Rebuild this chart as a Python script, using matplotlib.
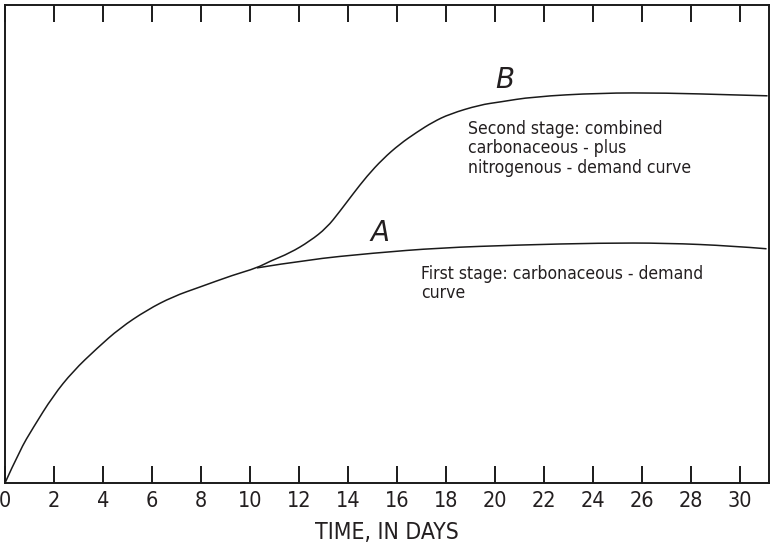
import matplotlib
matplotlib.use("Agg")
import matplotlib.pyplot as plt
from matplotlib import font_manager
from matplotlib.path import Path
from matplotlib.patches import PathPatch

# ------------------------------
# data (days, relative oxygen demand 0-100)
# ------------------------------
base_days = [0, 0.61, 1.14, 1.96, 2.78, 3.76, 4.69, 5.80, 6.86, 7.96, 9.31, 10.29]
base_bod = [0, 6.9, 11.5, 18.2, 23.4, 28.2, 32.4, 36.2, 39.0, 41.0, 43.5, 45.0]

curve_a_days = [10.29, 12.33, 15.02, 17.76, 21.0, 24.3, 27.0, 29.7, 31.1]
curve_a_bod = [45.0, 46.7, 48.1, 49.2, 49.8, 50.2, 50.2, 49.6, 49.0]

curve_b_days = [10.29, 10.82, 11.63, 12.45, 13.14, 13.67, 14.20, 14.78, 15.43,
                16.12, 16.82, 17.47, 18.16, 19.39, 20.20, 21.55, 24.29, 27.0,
                29.71, 31.14]
curve_b_bod = [45.0, 46.4, 48.1, 50.6, 53.4, 56.8, 60.4, 64.2, 67.8,
               70.9, 73.4, 75.5, 77.2, 79.1, 79.7, 80.8, 81.6, 81.6,
               81.2, 81.0]

day_ticks = list(range(0, 31, 2))

# ------------------------------
# font: look for a condensed face, the original uses a narrow sans
# ------------------------------
narrow = [f for f in font_manager.fontManager.ttflist
          if ("Narrow" in f.name or "Condensed" in f.name
              or str(f.stretch) in ("condensed", "semi-condensed"))
          and "Bold" not in f.fname and "Oblique" not in f.fname and "Italic" not in f.fname]
if narrow:
    FP = font_manager.FontProperties(fname=narrow[0].fname)
    scale = 1.0
else:
    FP = font_manager.FontProperties(family="DejaVu Sans")
    scale = 0.86
FP_IT = font_manager.FontProperties(family="DejaVu Sans", style="italic")
TXT = "#231f20"
INK = "#1a1a1a"


def smooth_line(ax, xs, ys):
    # quadratic bezier through segment midpoints, points are control points
    pts = list(zip(xs, ys))
    verts = [pts[0]]
    codes = [Path.MOVETO]
    for i in range(1, len(pts) - 1):
        mid = ((pts[i][0] + pts[i + 1][0]) / 2, (pts[i][1] + pts[i + 1][1]) / 2)
        if i == len(pts) - 2:
            mid = pts[-1]
        verts += [pts[i], mid]
        codes += [Path.CURVE3, Path.CURVE3]
    ax.add_patch(PathPatch(Path(verts, codes), fill=False, edgecolor=INK, lw=1.1,
                           transform=ax.transData, clip_on=False))


fig = plt.figure(figsize=(7.73, 5.44), dpi=100)
ax = fig.add_axes([5 / 773, 61 / 544, 764 / 773, 478 / 544])

smooth_line(ax, base_days + curve_b_days[1:], base_bod + curve_b_bod[1:])
smooth_line(ax, curve_a_days, curve_a_bod)

ax.set_xlim(0, 31.2)
ax.set_ylim(0, 100)

for s in ax.spines.values():
    s.set_linewidth(1.4)
    s.set_color(INK)

ax.set_xticks(day_ticks)
ax.set_xticklabels([str(d) for d in day_ticks], fontproperties=FP,
                   fontsize=15.5 * scale, color=TXT)
ax.tick_params(axis="x", direction="in", length=12, width=1.4, top=True,
               pad=6, colors=INK, labelcolor=TXT)
ax.set_yticks([])

ax.set_xlabel("TIME, IN DAYS", fontproperties=FP, fontsize=16.5 * scale, color=TXT,
              labelpad=7)

ax.text(20.4, 84.3, "B", fontproperties=FP_IT, fontsize=20,
        color=TXT, ha="center", va="center")
ax.text(15.3, 52.3, "A", fontproperties=FP_IT, fontsize=20,
        color=TXT, ha="center", va="center")

ax.text(18.9, 76.0, "Second stage: combined\ncarbonaceous - plus\nnitrogenous - demand curve",
        fontproperties=FP, fontsize=12.6 * scale, color=TXT, ha="left", va="top",
        linespacing=1.1)
ax.text(17.0, 45.6, "First stage: carbonaceous - demand\ncurve",
        fontproperties=FP, fontsize=12.6 * scale, color=TXT, ha="left", va="top",
        linespacing=1.1)

fig.savefig("out.png", dpi=100)
